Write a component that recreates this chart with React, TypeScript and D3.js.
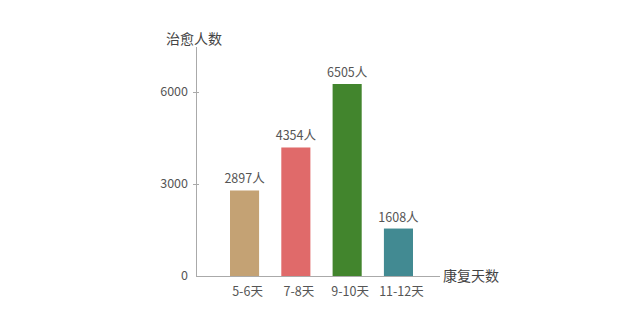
import React from "react";
import * as d3 from "d3";

const categories = ["5-6天", "7-8天", "9-10天", "11-12天"];
const values = [2897, 4354, 6505, 1608];
const colors = ["#C4A274", "#E06A6A", "#42852D", "#428A92"];
const yTicks = [0, 3000, 6000];
const yTitle = "治愈人数";
const xTitle = "康复天数";
const unit = "人";

export default function App() {
  const W = 640, H = 320;
  const x0 = 196, y0 = 276;
  const x = d3.scaleBand<string>().domain(categories).range([230, 413]).paddingInner(0.433).paddingOuter(0);
  const y = d3.scaleLinear().domain([0, 6505]).range([y0, 84]);
  const yt = d3.scaleLinear().domain([0, 6000]).range([y0, 92]);
  const font = "'Noto Sans CJK SC', 'DejaVu Sans', sans-serif";
  const textColor = "#555";
  return (
    <svg width={W} height={H} style={{ position: "absolute", left: 0, top: 0, background: "#fff" }} fontFamily={font}>
      <line x1={x0 + 0.5} x2={x0 + 0.5} y1={47} y2={y0} stroke="#aaa" strokeWidth={1} />
      <line x1={x0} x2={440} y1={y0 + 0.5} y2={y0 + 0.5} stroke="#aaa" strokeWidth={1} />
      {yTicks.map((t) => (
        <g key={t}>
          {t > 0 && <line x1={x0 - 3} x2={x0 + 3} y1={yt(t) + 0.5} y2={yt(t) + 0.5} stroke="#aaa" />}
          <text x={188} y={yt(t)} dy="0.35em" textAnchor="end" fontSize={12.5} fill={textColor}>{t}</text>
        </g>
      ))}
      <text x={166} y={44} fontSize={14} fill="#444">{yTitle}</text>
      <text x={443} y={y0} dy="0.35em" fontSize={14} fill="#444">{xTitle}</text>
      {categories.map((c, i) => {
        const bx = x(c)!;
        const bw = x.bandwidth();
        return (
          <g key={c}>
            <rect x={bx} y={y(values[i])} width={bw} height={y0 - y(values[i])} fill={colors[i]} />
            <text x={bx + bw / 2} y={y(values[i]) - 7} textAnchor="middle" fontSize={12.5} fill={textColor}>{values[i]}{unit}</text>
            <text x={bx + bw / 2 + 3} y={296} textAnchor="middle" fontSize={12.5} fill={textColor}>{c}</text>
          </g>
        );
      })}
    </svg>
  );
}
